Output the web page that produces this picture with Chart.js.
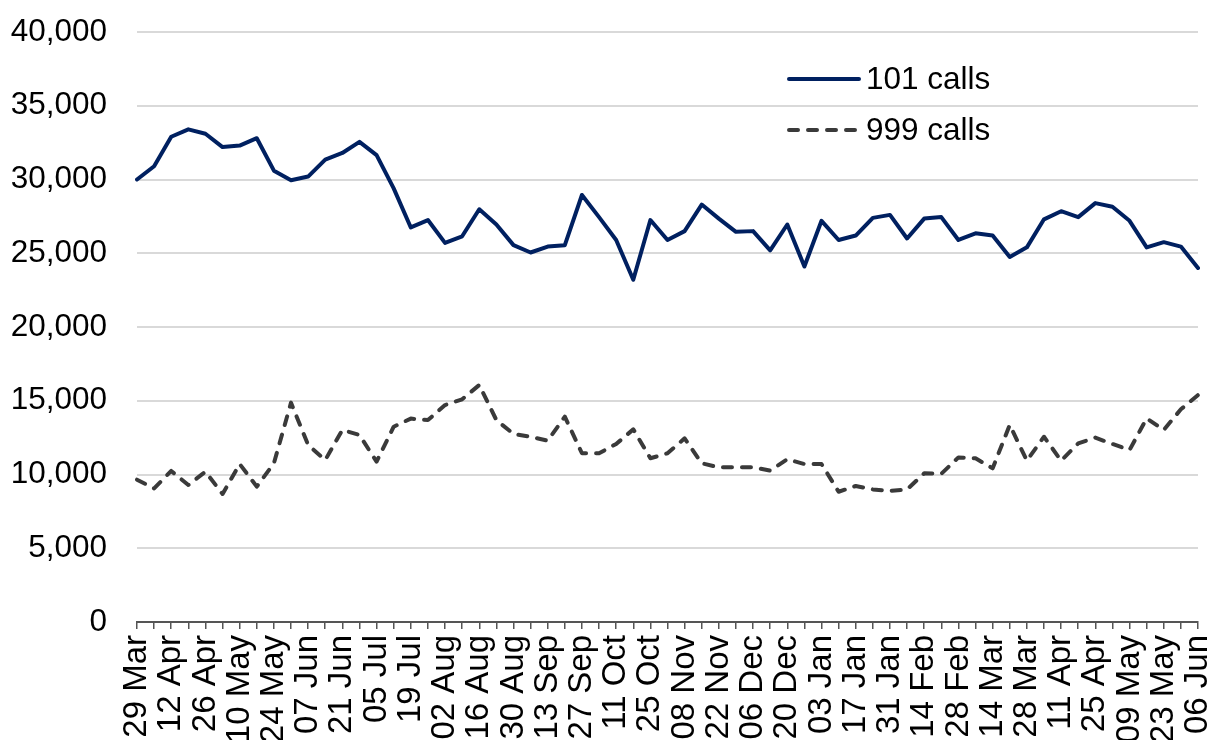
<!DOCTYPE html>
<html>
<head>
<meta charset="utf-8">
<title>101 and 999 calls</title>
<script src="https://cdn.jsdelivr.net/npm/chart.js@4/dist/chart.umd.min.js"></script>
<style>
  html, body { margin: 0; padding: 0; background: #fff; }
  .wrap { position: relative; width: 1213px; height: 740px; }
</style>
</head>
<body>
<div class="wrap"><canvas id="calls-chart"></canvas></div>
<script>
/* weekly series, week commencing */
var weeks = [
  '29 Mar', '05 Apr', '12 Apr', '19 Apr', '26 Apr', '03 May', '10 May', '17 May', '24 May', '31 May',
  '07 Jun', '14 Jun', '21 Jun', '28 Jun', '05 Jul', '12 Jul', '19 Jul', '26 Jul', '02 Aug', '09 Aug',
  '16 Aug', '23 Aug', '30 Aug', '06 Sep', '13 Sep', '20 Sep', '27 Sep', '04 Oct', '11 Oct', '18 Oct',
  '25 Oct', '01 Nov', '08 Nov', '15 Nov', '22 Nov', '29 Nov', '06 Dec', '13 Dec', '20 Dec', '27 Dec',
  '03 Jan', '10 Jan', '17 Jan', '24 Jan', '31 Jan', '07 Feb', '14 Feb', '21 Feb', '28 Feb', '07 Mar',
  '14 Mar', '21 Mar', '28 Mar', '04 Apr', '11 Apr', '18 Apr', '25 Apr', '02 May', '09 May', '16 May',
  '23 May', '30 May', '06 Jun'
];

var calls101 = [
  30000, 30900, 32900, 33400, 33100, 32200, 32300, 32800, 30600, 29950,
  30200, 31350, 31800, 32550, 31650, 29400, 26750, 27250, 25700, 26150,
  27980, 26950, 25550, 25050, 25450, 25550, 28950, 27450, 25900, 23200,
  27250, 25900, 26500, 28300, 27350, 26450, 26500, 25200, 26950, 24100,
  27200, 25900, 26200, 27400, 27600, 26000, 27350, 27450, 25900, 26350,
  26200, 24750, 25400, 27300, 27850, 27450, 28400, 28150, 27200, 25400,
  25750, 25450, 24000
];

var calls999 = [
  9650, 9060, 10240, 9290, 10190, 8680, 10710, 9180, 10760, 14870,
  12000, 10980, 13020, 12680, 10870, 13240, 13790, 13690, 14710, 15100,
  16070, 13690, 12750, 12560, 12290, 13920, 11440, 11440, 12070, 13060,
  11100, 11440, 12450, 10760, 10490, 10490, 10490, 10260, 11030, 10710,
  10710, 8830, 9220, 8990, 8880, 8990, 10080, 10050, 11160, 11100,
  10420, 13360, 10940, 12560, 10940, 12110, 12500, 12070, 11660, 13810,
  13020, 14420, 15390
];

var seriesNames = ['101 calls', '999 calls'];
var yTicks = { min: 0, max: 40000, step: 5000 };

(function () {
  'use strict';

  var FONT = '"Liberation Sans", Arial, Helvetica, sans-serif';
  var NAVY = '#002060';
  var DARK = '#3a3a3a';

  /* legend drawn inside the plot, stacked, with long line samples */
  var insideLegend = {
    id: 'insideLegend',
    afterDraw: function (chart) {
      var ctx = chart.ctx;
      var x0 = 789, x1 = 859, tx = 866;
      var rows = [79, 130];
      ctx.save();
      ctx.font = '31.5px ' + FONT;
      ctx.textBaseline = 'middle';
      ctx.textAlign = 'left';
      chart.data.datasets.forEach(function (ds, i) {
        var y = rows[i];
        ctx.beginPath();
        ctx.strokeStyle = ds.borderColor;
        ctx.lineWidth = ds.borderWidth;
        ctx.lineCap = 'round';
        ctx.setLineDash(ds.borderDash || []);
        ctx.moveTo(x0, y);
        ctx.lineTo(x1, y);
        ctx.stroke();
        ctx.setLineDash([]);
        ctx.fillStyle = '#000';
        ctx.fillText(ds.label, tx, y + 1);
      });
      ctx.restore();
    }
  };

  var canvas = document.getElementById('calls-chart');

  new Chart(canvas, {
    type: 'line',
    data: {
      labels: weeks,
      datasets: [
        {
          label: seriesNames[0],
          data: calls101,
          borderColor: NAVY, backgroundColor: NAVY,
          borderWidth: 4, pointRadius: 0, tension: 0,
          borderJoinStyle: 'round', borderCapStyle: 'round'
        },
        {
          label: seriesNames[1],
          data: calls999,
          borderColor: DARK, backgroundColor: DARK,
          borderWidth: 4, pointRadius: 0, tension: 0,
          borderDash: [9, 10],
          borderJoinStyle: 'round', borderCapStyle: 'round'
        }
      ]
    },
    options: {
      responsive: true,
      maintainAspectRatio: false,
      animation: false,
      layout: { padding: { top: 32, right: 15, bottom: 0, left: 0 } },
      plugins: {
        legend: { display: false },
        tooltip: { enabled: false }
      },
      scales: {
        x: {
          offset: false,
          border: { display: true, color: '#555', width: 2 },
          grid: { display: true, drawOnChartArea: false, drawTicks: true, tickLength: 7, color: '#555', lineWidth: 1.5 },
          ticks: {
            autoSkip: false, minRotation: 90, maxRotation: 90, padding: 6,
            color: '#000', font: { family: FONT, size: 33 },
            callback: function (v, i) { return i % 2 === 0 ? weeks[i] : ''; }
          },
          afterFit: function (s) { s.height = 118; s.paddingLeft = 0; s.paddingRight = 0; }
        },
        y: {
          min: yTicks.min, max: yTicks.max,
          border: { display: false },
          grid: { color: '#d9d9d9', lineWidth: 2, drawTicks: false },
          ticks: {
            stepSize: yTicks.step, padding: 30,
            color: '#000', font: { family: FONT, size: 31.5 },
            callback: function (v) { return v.toLocaleString('en-US'); }
          },
          afterFit: function (s) { s.width = 137; s.paddingTop = 0; s.paddingBottom = 0; }
        }
      }
    },
    plugins: [insideLegend]
  });
})();
</script>
</body>
</html>
